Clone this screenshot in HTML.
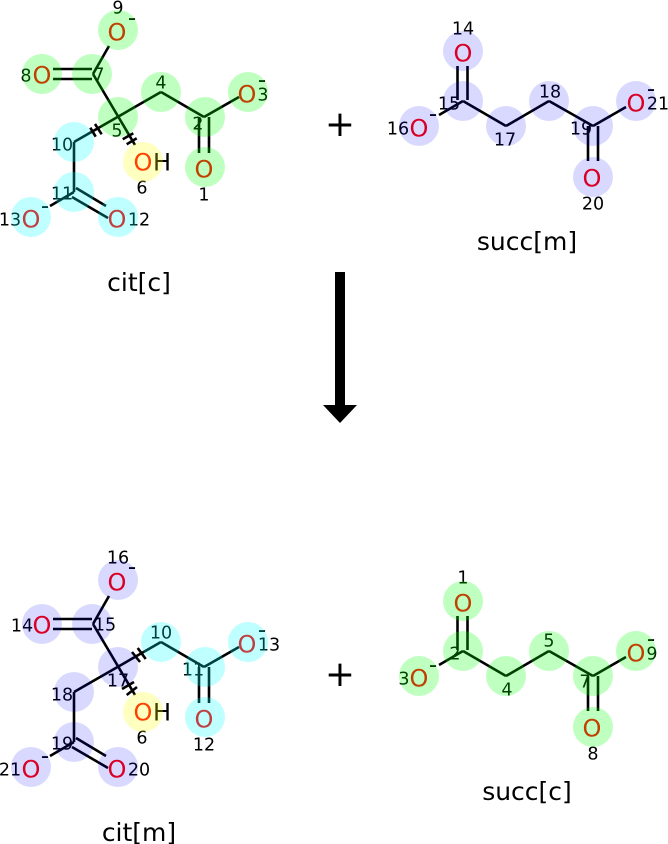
<!DOCTYPE html>
<html><head><meta charset="utf-8"><style>
html,body{margin:0;padding:0;background:#fff}
svg{display:block}
text{font-family:"DejaVu Sans",sans-serif;text-anchor:middle;fill:#000}
.n{font-size:17.5px;transform:translateY(.4px)}
.o{font-size:24px;fill:#f00;transform:translateY(.4px)}
.h{font-size:24px;transform:translateY(.4px)}
.m{font-size:23px;transform:translateY(.6px)}
.t{font-size:25px}
.p{font-size:36px}
line{stroke:#000;stroke-width:2.6;stroke-linecap:butt}
.g circle{fill:rgba(0,255,0,.25)}
.c circle{fill:rgba(0,255,255,.25)}
.v circle{fill:rgba(0,0,255,.15)}
.y circle{fill:rgba(255,255,0,.25)}
</style></head><body>
<svg width="668" height="844" viewBox="0 0 668 844" xmlns="http://www.w3.org/2000/svg">
<!-- cit[c] bonds -->
<line x1="109" y1="46" x2="93" y2="74"/>
<line x1="53" y1="69" x2="92" y2="69"/><line x1="53" y1="79" x2="92" y2="79"/>
<line x1="93" y1="74" x2="135" y2="145"/>
<line x1="161" y1="92" x2="74" y2="142"/>
<line x1="161" y1="92" x2="204" y2="117"/>
<line x1="204" y1="117" x2="239" y2="97"/>
<line x1="199" y1="117" x2="199" y2="153"/><line x1="209" y1="117" x2="209" y2="153"/>
<line x1="74" y1="142" x2="74" y2="192"/>
<line x1="74" y1="192" x2="50" y2="206"/>
<line x1="76" y1="188" x2="106" y2="206"/><line x1="72" y1="197" x2="108" y2="218"/>
<line x1="90.3" y1="127.7" x2="95.7" y2="136.7"/><line x1="95" y1="124" x2="101.7" y2="134.3"/>
<line x1="122.7" y1="139.3" x2="133.3" y2="133.3"/><line x1="126.7" y1="144.3" x2="136.7" y2="138.3"/>
<!-- cit[c] text -->
<text class="n" x="118" y="13">9</text><text class="m" x="132" y="25">-</text>
<text class="o" x="117" y="40">O</text>
<text class="o" x="42" y="83">O</text><text class="n" x="26" y="81">8</text>
<text class="n" x="99" y="80">7</text>
<text class="n" x="161" y="88">4</text>
<text class="n" x="117" y="136">5</text>
<text class="n" x="198" y="129">2</text>
<text class="o" x="247" y="102">O</text><text class="n" x="263" y="100">3</text><text class="m" x="262" y="87">-</text>
<text class="o" x="143" y="170">O</text><text class="h" x="162" y="170">H</text>
<text class="n" x="142" y="193">6</text>
<text class="o" x="204" y="177">O</text><text class="n" x="204" y="200">1</text>
<text class="n" x="62" y="150">10</text>
<text class="n" x="62" y="199">11</text>
<text class="o" x="31" y="227">O</text><text class="n" x="10" y="225">13</text><text class="m" x="45" y="213">-</text>
<text class="o" x="117" y="227">O</text><text class="n" x="139" y="225">12</text>
<text class="t" x="139" y="291">cit[c]</text>
<g class="g"><circle cx="118" cy="30" r="20"/><circle cx="92" cy="74" r="20"/><circle cx="42" cy="74" r="20"/><circle cx="118" cy="117" r="20"/><circle cx="161" cy="92" r="20"/><circle cx="205" cy="117" r="20"/><circle cx="248" cy="92" r="20"/><circle cx="205" cy="167" r="20"/></g>
<g class="c"><circle cx="74" cy="142" r="20"/><circle cx="74" cy="192" r="20"/><circle cx="31" cy="217" r="20"/><circle cx="118" cy="217" r="20"/></g>
<g class="y"><circle cx="143" cy="162" r="20"/></g>

<text class="p" x="340" y="136">+</text>

<!-- succ[m] -->
<line x1="457.5" y1="66" x2="457.5" y2="100"/><line x1="467.5" y1="66" x2="467.5" y2="100"/>
<line x1="439" y1="115" x2="463" y2="101"/>
<line x1="463" y1="101" x2="506" y2="126"/><line x1="506" y1="126" x2="549" y2="101"/><line x1="549" y1="101" x2="593" y2="126"/><line x1="593" y1="126" x2="626" y2="107"/>
<line x1="588" y1="126" x2="588" y2="161"/><line x1="598" y1="126" x2="598" y2="161"/>
<text class="o" x="463" y="61">O</text><text class="n" x="463" y="34">14</text>
<text class="n" x="449" y="109">15</text>
<text class="o" x="419" y="136">O</text><text class="n" x="398" y="134">16</text><text class="m" x="433" y="121">-</text>
<text class="n" x="505" y="145">17</text>
<text class="n" x="550" y="97">18</text>
<text class="n" x="581" y="134">19</text>
<text class="o" x="636" y="111">O</text><text class="n" x="658" y="109">21</text><text class="m" x="651" y="96">-</text>
<text class="o" x="592" y="186">O</text><text class="n" x="593" y="209">20</text>
<text class="t" x="527" y="250">succ[m]</text>
<g class="v"><circle cx="463" cy="51" r="20"/><circle cx="463" cy="101" r="20"/><circle cx="419" cy="126" r="20"/><circle cx="506" cy="126" r="20"/><circle cx="549" cy="101" r="20"/><circle cx="593" cy="126" r="20"/><circle cx="636" cy="101" r="20"/><circle cx="593" cy="177" r="20"/></g>

<!-- arrow -->
<rect x="335" y="272" width="10" height="134" fill="#000"/>
<polygon points="323,405 357,405 340,423" fill="#000"/>

<!-- cit[m] -->
<line x1="109" y1="596" x2="93" y2="624"/>
<line x1="53" y1="619" x2="92" y2="619"/><line x1="53" y1="629" x2="92" y2="629"/>
<line x1="93" y1="624" x2="135" y2="695"/>
<line x1="161" y1="642" x2="74" y2="692"/>
<line x1="161" y1="642" x2="204" y2="667"/>
<line x1="204" y1="667" x2="239" y2="647"/>
<line x1="199" y1="667" x2="199" y2="703"/><line x1="209" y1="667" x2="209" y2="703"/>
<line x1="74" y1="692" x2="74" y2="742"/>
<line x1="74" y1="742" x2="50" y2="756"/>
<line x1="76" y1="738" x2="106" y2="756"/><line x1="72" y1="747" x2="108" y2="768"/>
<line x1="132" y1="652" x2="140" y2="662"/><line x1="137.7" y1="648" x2="145.7" y2="659"/>
<line x1="122" y1="689" x2="134" y2="682"/><line x1="126.7" y1="695" x2="137" y2="687"/>
<text class="n" x="118" y="563">16</text><text class="m" x="132" y="574">-</text>
<text class="o" x="117" y="590">O</text>
<text class="o" x="42" y="633">O</text><text class="n" x="22" y="631">14</text>
<text class="n" x="105" y="630">15</text>
<text class="n" x="118" y="686">17</text>
<text class="n" x="161" y="638">10</text>
<text class="n" x="193" y="675">11</text>
<text class="o" x="247" y="652">O</text><text class="n" x="269" y="650">13</text><text class="m" x="262" y="637">-</text>
<text class="o" x="204" y="727">O</text><text class="n" x="204" y="750">12</text>
<text class="o" x="143" y="720">O</text><text class="h" x="162" y="720">H</text><text class="n" x="142" y="743">6</text>
<text class="n" x="62" y="700">18</text>
<text class="n" x="62" y="749">19</text>
<text class="o" x="31" y="777">O</text><text class="n" x="10" y="775">21</text><text class="m" x="45" y="763">-</text>
<text class="o" x="117" y="777">O</text><text class="n" x="139" y="775">20</text>
<text class="t" x="139" y="841">cit[m]</text>
<g class="v"><circle cx="118" cy="580" r="20"/><circle cx="92" cy="624" r="20"/><circle cx="42" cy="624" r="20"/><circle cx="118" cy="667" r="20"/><circle cx="74" cy="692" r="20"/><circle cx="74" cy="742" r="20"/><circle cx="31" cy="767" r="20"/><circle cx="118" cy="767" r="20"/></g>
<g class="c"><circle cx="161" cy="642" r="20"/><circle cx="205" cy="667" r="20"/><circle cx="248" cy="642" r="20"/><circle cx="205" cy="717" r="20"/></g>
<g class="y"><circle cx="143" cy="712" r="20"/></g>

<text class="p" x="340" y="686">+</text>

<!-- succ[c] -->
<line x1="457.5" y1="616" x2="457.5" y2="650"/><line x1="467.5" y1="616" x2="467.5" y2="650"/>
<line x1="439" y1="665" x2="463" y2="651"/>
<line x1="463" y1="651" x2="506" y2="676"/><line x1="506" y1="676" x2="549" y2="651"/><line x1="549" y1="651" x2="593" y2="676"/><line x1="593" y1="676" x2="626" y2="657"/>
<line x1="588" y1="676" x2="588" y2="711"/><line x1="598" y1="676" x2="598" y2="711"/>
<text class="o" x="463" y="611">O</text><text class="n" x="463" y="583">1</text>
<text class="n" x="455" y="659">2</text>
<text class="o" x="419" y="686">O</text><text class="n" x="404" y="684">3</text><text class="m" x="433" y="672">-</text>
<text class="n" x="507" y="695">4</text>
<text class="n" x="549" y="646">5</text>
<text class="n" x="585" y="687">7</text>
<text class="o" x="636" y="661">O</text><text class="n" x="652" y="659">9</text><text class="m" x="651" y="646">-</text>
<text class="o" x="592" y="736">O</text><text class="n" x="593" y="759">8</text>
<text class="t" x="527" y="800">succ[c]</text>
<g class="g"><circle cx="463" cy="601" r="20"/><circle cx="463" cy="651" r="20"/><circle cx="419" cy="676" r="20"/><circle cx="506" cy="676" r="20"/><circle cx="549" cy="651" r="20"/><circle cx="593" cy="676" r="20"/><circle cx="636" cy="651" r="20"/><circle cx="593" cy="727" r="20"/></g>
</svg>
</body></html>
